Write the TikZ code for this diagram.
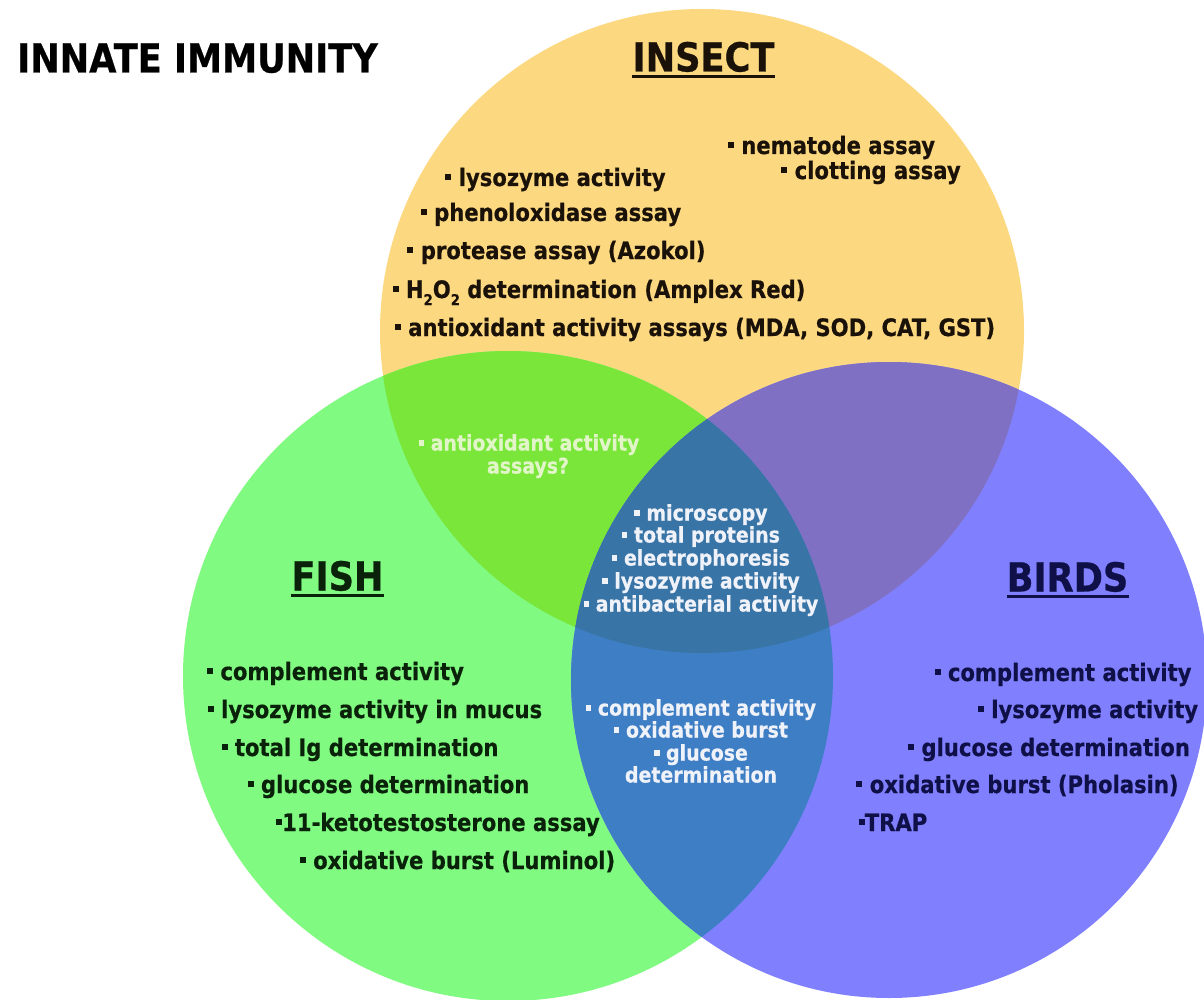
\documentclass[tikz,border=0pt]{standalone}
\usepackage{fontspec}
\setmainfont{DejaVu Sans}[FakeStretch=0.88, BoldFeatures={FakeBold=0.6}]
\definecolor{cIns}{RGB}{252,216,128}
\definecolor{cFish}{RGB}{128,250,128}
\definecolor{cBird}{RGB}{128,128,255}
\definecolor{cIF}{RGB}{122,230,58}
\definecolor{cIB}{RGB}{128,112,196}
\definecolor{cFB}{RGB}{62,126,196}
\definecolor{cAll}{RGB}{56,116,166}
\definecolor{tIns}{RGB}{26,18,8}
\definecolor{tFish}{RGB}{10,34,10}
\definecolor{tBird}{RGB}{16,16,72}
\definecolor{tWhite}{RGB}{240,242,250}
\definecolor{tIF}{RGB}{225,245,200}
\newcommand{\vbul}{\raisebox{0.23em}{\rule{0.25em}{0.25em}}}
\newcommand{\mysub}[1]{\raisebox{-0.3em}{\fontsize{15}{15}\selectfont #1}}
\begin{document}
\begin{tikzpicture}[x=1pt,y=-1pt,
  heading/.style={inner sep=0pt, font=\bfseries\fontsize{40}{40}\selectfont, text height=29pt, text depth=0pt},
  uline/.style={line width=2.6pt},
  listitem/.style={inner sep=0pt, font=\bfseries\fontsize{24}{24}\selectfont, text height=17.5pt, text depth=5.5pt},
  smallitem/.style={inner sep=0pt, font=\bfseries\fontsize{21.5}{21.5}\selectfont, text height=15.5pt, text depth=4.5pt},
]
\useasboundingbox (0,0) rectangle (1204,1000);
\fill[white] (0,0) rectangle (1204,1000);
% circles
\def\insectC{(702,331) circle[radius=322pt]}
\def\fishC{(508,676) circle[radius=325pt]}
\def\birdC{(889,680) circle[radius=318pt]}
\fill[cIns] \insectC;
\fill[cFish] \fishC;
\fill[cBird] \birdC;
\begin{scope}\clip \insectC; \fill[cIF] \fishC; \end{scope}
\begin{scope}\clip \insectC; \fill[cIB] \birdC; \end{scope}
\begin{scope}\clip \fishC; \fill[cFB] \birdC; \end{scope}
\begin{scope}\clip \insectC; \clip \fishC; \fill[cAll] \birdC; \end{scope}

% headings
\node[heading, text=black] (title) at (197.5,58) {INNATE IMMUNITY};
\node[heading, text=tIns] (insect) at (703.5,57) {INSECT};
\draw[uline, tIns] ([yshift=-5pt]insect.base west) -- ([yshift=-5pt]insect.base east);
\node[heading, text=tFish] (fish) at (337.5,576) {FISH};
\draw[uline, tFish] ([yshift=-5pt]fish.base west) -- ([yshift=-5pt]fish.base east);
\node[heading, text=tBird] (birds) at (1067.5,577) {BIRDS};
\draw[uline, tBird] ([yshift=-5pt]birds.base west) -- ([yshift=-5pt]birds.base east);

% insect
\begin{scope}[every node/.append style={listitem, text=tIns}]
\node (i1) at (831.5,148) {\vbul{} nematode assay};
\node (i2) at (871,173) {\vbul{} clotting assay};
\node (i3) at (555.5,180) {\vbul{} lysozyme activity};
\node (i4) at (551,215) {\vbul{} phenoloxidase assay};
\node (i5) at (556.5,253) {\vbul{} protease assay (Azokol)};
\node (i6) at (599,292) {\vbul{} H\mysub{2}O\mysub{2} determination (Amplex Red)};
\node (i7) at (695,330) {\vbul{} antioxidant activity assays (MDA, SOD, CAT, GST)};
\end{scope}

% fish
\begin{scope}[every node/.append style={listitem, text=tFish}]
\node (f1) at (335.5,674) {\vbul{} complement activity};
\node (f2) at (375,712) {\vbul{} lysozyme activity in mucus};
\node (f3) at (360,750) {\vbul{} total Ig determination};
\node (f4) at (388.5,787) {\vbul{} glucose determination};
\node (f5) at (438,825) {\vbul{}11-ketotestosterone assay};
\node (f6) at (457.5,863) {\vbul{} oxidative burst (Luminol)};
\end{scope}

% birds
\begin{scope}[every node/.append style={listitem, text=tBird}]
\node (b1) at (1063,675) {\vbul{} complement activity};
\node (b2) at (1088,712) {\vbul{} lysozyme activity};
\node (b3) at (1049,750) {\vbul{} glucose determination};
\node (b4) at (1017.5,787) {\vbul{} oxidative burst (Pholasin)};
\node (b5) at (893,825) {\vbul{}TRAP};
\end{scope}

% insect & fish
\begin{scope}[every node/.append style={smallitem, text=tIF}]
\node (if1) at (529,445) {\vbul{} antioxidant activity};
\node (if2) at (528,468) {assays?};
\end{scope}

% all three
\begin{scope}[every node/.append style={smallitem, text=tWhite}]
\node (a1) at (701,515) {\vbul{} microscopy};
\node (a2) at (701,537) {\vbul{} total proteins};
\node (a3) at (701,560) {\vbul{} electrophoresis};
\node (a4) at (701,583) {\vbul{} lysozyme activity};
\node (a5) at (701,606) {\vbul{} antibacterial activity};
\end{scope}

% fish & birds
\begin{scope}[every node/.append style={smallitem, text=tWhite}]
\node (fb1) at (701,710) {\vbul{} complement activity};
\node (fb2) at (701,732) {\vbul{} oxidative burst};
\node (fb3) at (701,755) {\vbul{} glucose};
\node (fb4) at (701,777) {determination};
\end{scope}
\end{tikzpicture}
\end{document}
